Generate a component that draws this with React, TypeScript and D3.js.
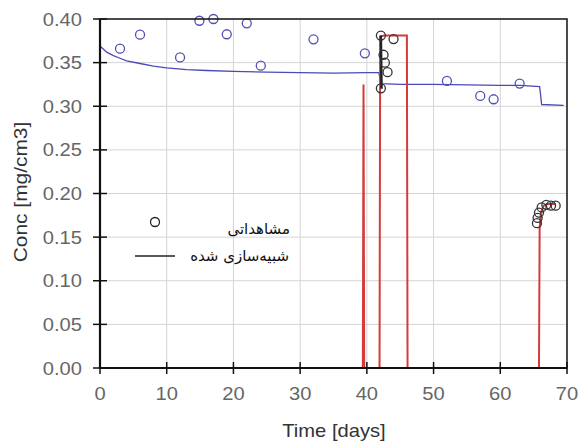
// Concentration vs time: observed points, simulated lines
import { useRef, useEffect } from 'react'
import * as d3 from 'd3'

// blue series — observations
const obsBlueT = [3.0, 6.0, 12.0, 14.9, 17.0, 19.0, 22.0, 24.1, 32.0, 39.7, 52.0, 57.0, 59.0, 62.9]
const obsBlueC = [0.366, 0.382, 0.356, 0.398, 0.4, 0.3825, 0.395, 0.3465, 0.3767, 0.3607, 0.329, 0.3118, 0.308, 0.326]

// blue series — simulated
const simBlueT = [0, 1, 2, 3, 4, 6, 8, 10, 13, 16, 20, 25, 30, 35, 40, 41.8, 42.1, 45, 50, 55, 60, 63, 65.9, 66.2, 69.5]
const simBlueC = [0.369, 0.362, 0.358, 0.355, 0.352, 0.349, 0.346, 0.344, 0.342, 0.341, 0.34, 0.339, 0.3385, 0.338, 0.3385, 0.3385, 0.326, 0.325, 0.325, 0.3245, 0.324, 0.324, 0.3225, 0.302, 0.301]

// black series — observations
const obsBlackT = [42.1, 42.5, 42.7, 43.1, 42.1, 44.0, 65.5, 65.6, 65.8, 66.2, 66.9, 67.6, 68.3]
const obsBlackC = [0.381, 0.359, 0.35, 0.339, 0.3206, 0.377, 0.166, 0.172, 0.178, 0.184, 0.187, 0.186, 0.186]

// black series — short simulated segment
const simBlackT = [42.1, 42.2]
const simBlackC = [0.381, 0.32]

// red series — simulated
const simRedT = [0, 39.4, 39.5, 39.6, 41.9, 42.0, 42.6, 46.0, 46.1, 65.8, 65.9, 66.1, 66.5, 67.0, 68.3]
const simRedC = [0, 0, 0.325, 0, 0, 0.38, 0.381, 0.381, 0, 0, 0.16, 0.178, 0.186, 0.188, 0.188]

const xTicks = [0, 10, 20, 30, 40, 50, 60, 70]
const yTicks = [0, 0.05, 0.1, 0.15, 0.2, 0.25, 0.3, 0.35, 0.4]

const legendObs = 'مشاهداتی'
const legendSim = 'شبیه\u200cسازی شده'

const zip = (t: number[], c: number[]) => t.map((v, i) => [v, c[i]] as [number, number])

export default function App() {
  const svgRef = useRef<SVGSVGElement>(null)

  useEffect(() => {
    const width = 579
    const height = 441
    const svg = d3.select(svgRef.current).attr('width', width).attr('height', height)
    svg.selectAll('*').remove()

    const x = d3.scaleLinear().domain([0, 70]).range([100, 567])
    const y = d3.scaleLinear().domain([0, 0.4]).range([368, 19])
    const font = 'Liberation Sans, Arial, sans-serif'

    svg.append('rect').attr('width', width).attr('height', height).attr('fill', '#fff')

    // grid
    svg.selectAll('line.gx').data(xTicks.slice(1, -1)).join('line')
      .attr('class', 'gx')
      .attr('x1', d => x(d)).attr('x2', d => x(d))
      .attr('y1', y(0)).attr('y2', y(0.4))
      .attr('stroke', '#d4d4d4').attr('stroke-width', 1)
    svg.selectAll('line.gy').data(yTicks.slice(1, -1)).join('line')
      .attr('class', 'gy')
      .attr('y1', d => y(d)).attr('y2', d => y(d))
      .attr('x1', x(0)).attr('x2', x(70))
      .attr('stroke', '#d4d4d4').attr('stroke-width', 1)

    const line = d3.line<[number, number]>().x(d => x(d[0])).y(d => y(d[1]))

    // simulated lines
    svg.append('path').attr('d', line(zip(simBlueT, simBlueC)))
      .attr('fill', 'none').attr('stroke', '#4a4ab8').attr('stroke-width', 1.3)
    svg.append('path').attr('d', line(zip(simRedT, simRedC)))
      .attr('fill', 'none').attr('stroke', '#d43c3c').attr('stroke-width', 2)
    svg.append('path').attr('d', line(zip(simBlackT, simBlackC)))
      .attr('fill', 'none').attr('stroke', '#222').attr('stroke-width', 2.5)

    // observed points
    svg.selectAll('circle.ob').data(zip(obsBlueT, obsBlueC)).join('circle')
      .attr('class', 'ob')
      .attr('cx', d => x(d[0])).attr('cy', d => y(d[1])).attr('r', 4.5)
      .attr('fill', 'none').attr('stroke', '#5050b4').attr('stroke-width', 1.3)
    svg.selectAll('circle.ok').data(zip(obsBlackT, obsBlackC)).join('circle')
      .attr('class', 'ok')
      .attr('cx', d => x(d[0])).attr('cy', d => y(d[1])).attr('r', 4.5)
      .attr('fill', 'none').attr('stroke', '#333').attr('stroke-width', 1.3)

    // frame
    svg.append('rect')
      .attr('x', x(0)).attr('y', y(0.4))
      .attr('width', x(70) - x(0)).attr('height', y(0) - y(0.4))
      .attr('fill', 'none').attr('stroke', '#111').attr('stroke-width', 1.5)
    svg.append('line').attr('x1', x(0)).attr('x2', x(0)).attr('y1', y(0.4)).attr('y2', y(0))
      .attr('stroke', '#111').attr('stroke-width', 2.2)
    svg.append('line').attr('x1', x(0)).attr('x2', x(70)).attr('y1', y(0)).attr('y2', y(0))
      .attr('stroke', '#111').attr('stroke-width', 2.2)

    // ticks crossing the axes
    svg.selectAll('line.tx').data(xTicks).join('line')
      .attr('class', 'tx')
      .attr('x1', d => x(d)).attr('x2', d => x(d))
      .attr('y1', y(0) - 6).attr('y2', y(0) + 6)
      .attr('stroke', '#111').attr('stroke-width', 1.5)
    svg.selectAll('line.ty').data(yTicks).join('line')
      .attr('class', 'ty')
      .attr('y1', d => y(d)).attr('y2', d => y(d))
      .attr('x1', x(0) - 7).attr('x2', x(0) + 7)
      .attr('stroke', '#111').attr('stroke-width', 1.5)

    // tick labels
    svg.selectAll('text.lx').data(xTicks).join('text')
      .attr('class', 'lx')
      .attr('transform', d => `translate(${x(d)},400) scale(1.12,1)`)
      .attr('text-anchor', 'middle')
      .attr('font-family', font).attr('font-size', 18).attr('fill', '#666')
      .text(d => d)
    svg.selectAll('text.ly').data(yTicks).join('text')
      .attr('class', 'ly')
      .attr('transform', d => `translate(82,${y(d) + 6.5}) scale(1.12,1)`)
      .attr('text-anchor', 'end')
      .attr('font-family', font).attr('font-size', 18).attr('fill', '#666')
      .text(d => d3.format('.2f')(d))

    // axis titles
    svg.append('text')
      .attr('transform', 'translate(334,437) scale(1.12,1)')
      .attr('text-anchor', 'middle')
      .attr('font-family', font).attr('font-size', 18).attr('fill', '#333')
      .text('Time [days]')
    svg.append('text')
      .attr('transform', 'translate(27,192) rotate(-90) scale(1.1,1)')
      .attr('text-anchor', 'middle')
      .attr('font-family', font).attr('font-size', 19).attr('fill', '#333')
      .text('Conc [mg/cm3]')

    // legend
    svg.append('circle').attr('cx', 155).attr('cy', 222).attr('r', 4.5)
      .attr('fill', 'none').attr('stroke', '#222').attr('stroke-width', 1.3)
    svg.append('line').attr('x1', 135).attr('x2', 175).attr('y1', 256).attr('y2', 256)
      .attr('stroke', '#222').attr('stroke-width', 1.3)
    svg.append('text').attr('x', 290).attr('y', 234)
      .attr('text-anchor', 'end')
      .attr('font-family', 'DejaVu Sans, sans-serif').attr('font-size', 15).attr('fill', '#111')
      .text(legendObs)
    svg.append('text').attr('x', 289).attr('y', 261)
      .attr('text-anchor', 'end')
      .attr('font-family', 'DejaVu Sans, sans-serif').attr('font-size', 15).attr('fill', '#111')
      .text(legendSim)
  }, [])

  return <svg ref={svgRef} style={{ display: 'block', position: 'absolute', left: 0, top: 0 }} />
}
